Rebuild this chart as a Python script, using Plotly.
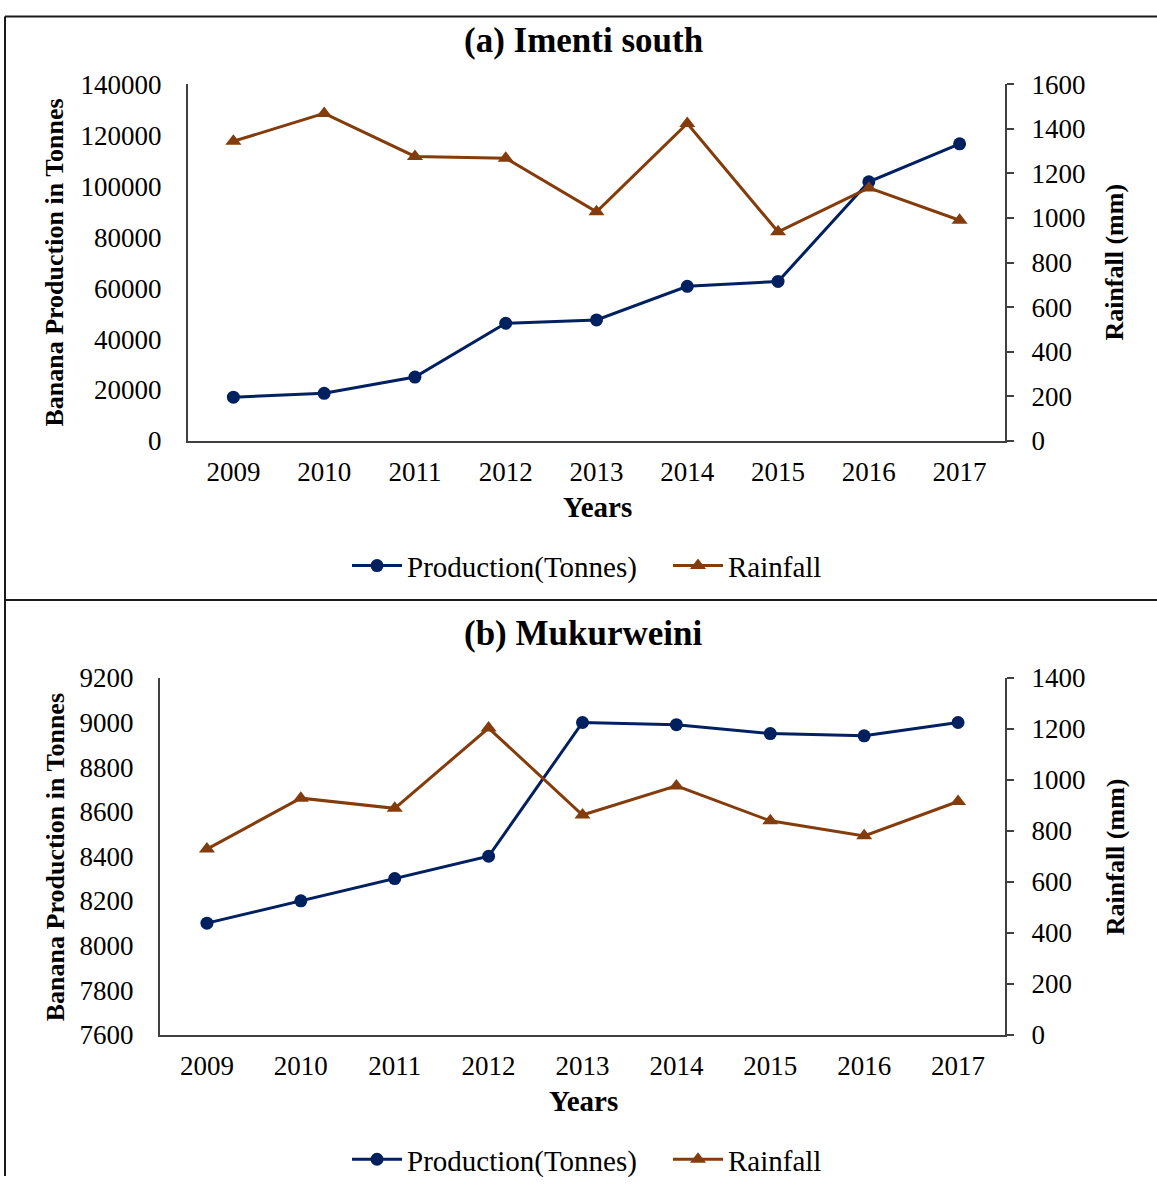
import plotly.graph_objects as go

# ---- data ----
years = ["2009", "2010", "2011", "2012", "2013", "2014", "2015", "2016", "2017"]

imenti_production = [17200, 18700, 25100, 46200, 47500, 60700, 62600, 101700, 116600]
imenti_rainfall = [1344, 1469, 1276, 1268, 1028, 1424, 938, 1135, 990]

mukurweini_production = [8100, 8200, 8300, 8400, 9000, 8990, 8950, 8940, 9000]
mukurweini_rainfall = [728, 928, 888, 1203, 862, 976, 839, 780, 915]

panel_titles = ["(a) Imenti south", "(b) Mukurweini"]
left_title = "Banana Production in Tonnes"
right_title = "Rainfall (mm)"
x_title = "Years"
prod_name = "Production(Tonnes)"
rain_name = "Rainfall"

# ---- styling ----
W, H = 1157, 1191
FONT = "Liberation Serif, Times New Roman, serif"
PROD_COLOR = "#002060"
RAIN_COLOR = "#843C0C"
AXIS_COLOR = "#404040"

# vertical layout positions (px from top of the figure)
PLOT_A = (71, 437)      # top, bottom of panel (a) plot area
PLOT_B = (680, 1046)    # top, bottom of panel (b) plot area
TITLE_Y = (26, 634)
YEARS_Y = (505, 1114)
LEGEND_Y = (565, 1174)
YTITLE_Y = (254, 864)
SEPARATOR_Y = 600


def px_x(p):
    return p / W


def px_y(p):
    return 1 - p / H


fig = go.Figure()

# panel (a)
fig.add_trace(go.Scatter(x=years, y=imenti_production, name=prod_name, mode="lines+markers",
                         line=dict(color=PROD_COLOR, width=3),
                         marker=dict(symbol="circle", size=13, color=PROD_COLOR),
                         xaxis="x", yaxis="y", legend="legend"))
fig.add_trace(go.Scatter(x=years, y=imenti_rainfall, name=rain_name, mode="lines+markers",
                         line=dict(color=RAIN_COLOR, width=3),
                         marker=dict(symbol="triangle-up", size=14, color=RAIN_COLOR),
                         xaxis="x", yaxis="y2", legend="legend"))

# panel (b)
fig.add_trace(go.Scatter(x=years, y=mukurweini_production, name=prod_name, mode="lines+markers",
                         line=dict(color=PROD_COLOR, width=3),
                         marker=dict(symbol="circle", size=13, color=PROD_COLOR),
                         xaxis="x3", yaxis="y3", legend="legend2"))
fig.add_trace(go.Scatter(x=years, y=mukurweini_rainfall, name=rain_name, mode="lines+markers",
                         line=dict(color=RAIN_COLOR, width=3),
                         marker=dict(symbol="triangle-up", size=14, color=RAIN_COLOR),
                         xaxis="x3", yaxis="y4", legend="legend2"))

tick_font = dict(family=FONT, size=27, color="#000000")

x_common = dict(type="category", range=[-0.5, 8.5], showgrid=False, zeroline=False,
                showline=True, linecolor=AXIS_COLOR, linewidth=2, ticks="",
                tickfont=tick_font, ticklabelstandoff=6, fixedrange=True)
yl_common = dict(showgrid=False, zeroline=False, showline=True, linecolor=AXIS_COLOR,
                 linewidth=2, ticks="", tickformat="d", tickfont=tick_font,
                 ticklabelstandoff=19, fixedrange=True)
yr_common = dict(showgrid=False, zeroline=False, showline=True, linecolor=AXIS_COLOR,
                 linewidth=2, ticks="outside", ticklen=7, tickwidth=2, tickcolor=AXIS_COLOR,
                 tickformat="d", tickfont=tick_font, ticklabelstandoff=12, side="right",
                 fixedrange=True)

legend_common = dict(orientation="h", xanchor="left", yanchor="middle",
                     font=dict(family=FONT, size=29), bgcolor="rgba(0,0,0,0)",
                     itemwidth=50, entrywidth=256, entrywidthmode="pixels", itemclick=False)

fig.update_layout(
    width=W, height=H,
    margin=dict(l=0, r=0, t=0, b=0),
    paper_bgcolor="white", plot_bgcolor="white",
    font=dict(family=FONT, color="#000000"),
    xaxis=dict(domain=[px_x(188), px_x(1005)], anchor="y", **x_common),
    yaxis=dict(domain=[px_y(PLOT_A[1]), px_y(PLOT_A[0])], anchor="x", range=[0, 140000],
               dtick=20000, **yl_common),
    yaxis2=dict(overlaying="y", anchor="x", range=[0, 1600], dtick=200, **yr_common),
    xaxis3=dict(domain=[px_x(160), px_x(1005)], anchor="y3", **x_common),
    yaxis3=dict(domain=[px_y(PLOT_B[1]), px_y(PLOT_B[0])], anchor="x3", range=[7600, 9200],
                dtick=200, **yl_common),
    yaxis4=dict(overlaying="y3", anchor="x3", range=[0, 1400], dtick=200, **yr_common),
    legend=dict(x=px_x(347), y=px_y(LEGEND_Y[0]), **legend_common),
    legend2=dict(x=px_x(347), y=px_y(LEGEND_Y[1]), **legend_common),
    showlegend=True,
)

annotations = []
# panel titles
for text, yc in zip(panel_titles, TITLE_Y):
    annotations.append(dict(text=f"<b>{text}</b>", x=px_x(583), y=px_y(yc), xref="paper", yref="paper",
                            showarrow=False, xanchor="center", yanchor="middle",
                            font=dict(family=FONT, size=35)))
# x axis titles
for xc, yc in zip([597, 583], YEARS_Y):
    annotations.append(dict(text=f"<b>{x_title}</b>", x=px_x(xc), y=px_y(yc), xref="paper", yref="paper",
                            showarrow=False, xanchor="center", yanchor="middle",
                            font=dict(family=FONT, size=29)))
# y axis titles
for yc in YTITLE_Y:
    annotations.append(dict(text=f"<b>{left_title}</b>", x=px_x(55), y=px_y(yc), xref="paper", yref="paper",
                            showarrow=False, xanchor="center", yanchor="middle", textangle=-90,
                            font=dict(family=FONT, size=26)))
    annotations.append(dict(text=f"<b>{right_title}</b>", x=px_x(1115), y=px_y(yc), xref="paper", yref="paper",
                            showarrow=False, xanchor="center", yanchor="middle", textangle=-90,
                            font=dict(family=FONT, size=26)))
fig.update_layout(annotations=annotations)

# panel frames
frame = dict(type="line", xref="paper", yref="paper", line=dict(color="#1a1a1a", width=2))
shapes = [
    dict(x0=px_x(5), x1=1.0, y0=px_y(1.5), y1=px_y(1.5), **frame),
    dict(x0=px_x(5), x1=px_x(5), y0=px_y(1.5), y1=0, **frame),
    dict(x0=px_x(5), x1=1.0, y0=px_y(SEPARATOR_Y), y1=px_y(SEPARATOR_Y), **frame),
]
fig.update_layout(shapes=shapes)

fig.write_html("out.html")
